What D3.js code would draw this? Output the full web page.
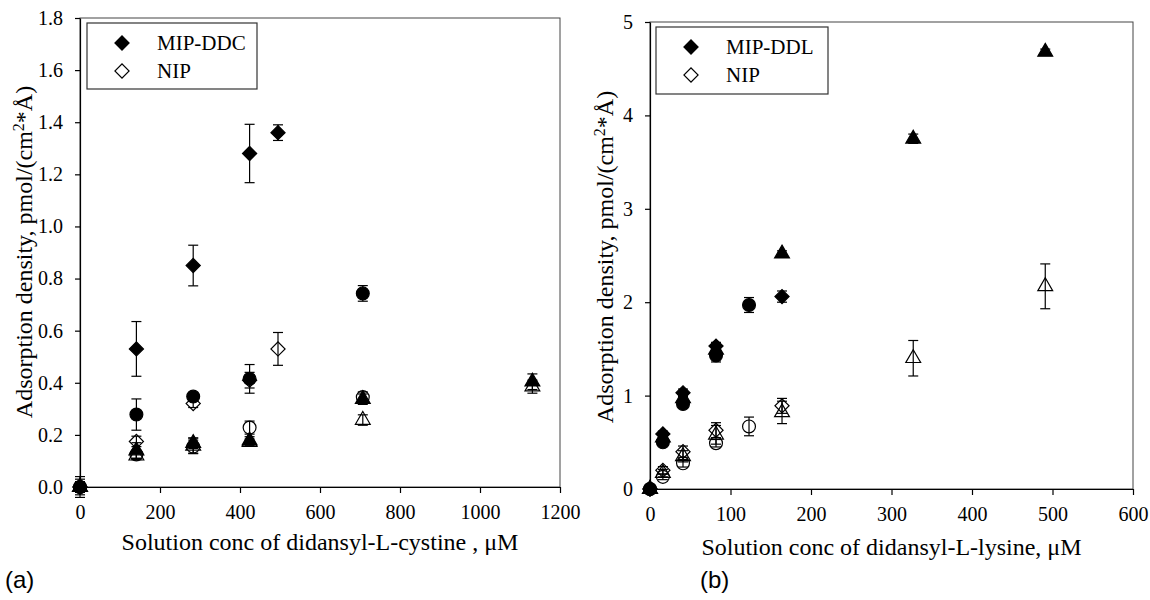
<!DOCTYPE html>
<html>
<head>
<meta charset="utf-8">
<script src="https://cdn.jsdelivr.net/npm/d3@7"></script>
<style>
  body { margin: 0; background: #fff; }
  text { font-family: "Liberation Serif", "Times New Roman", serif; fill: #000; }
  .tick text { font-family: "Liberation Serif", "Times New Roman", serif; font-size: 20px; }
</style>
</head>
<body>
<div id="chart"></div>
<script>
// ---- panel (a): didansyl-L-cystine ----
var aMipDiaX = [0, 141, 283, 424, 495];
var aMipDiaY = [0, 0.53, 0.85, 1.28, 1.36];
var aMipDiaE = [0.04, 0.105, 0.078, 0.112, 0.03];
var aNipDiaX = [0, 141, 283, 424, 495];
var aNipDiaY = [0, 0.175, 0.32, 0.41, 0.53];
var aNipDiaE = [0.02, 0.02, 0.015, 0.03, 0.063];
var aMipCirX = [0, 141, 283, 424, 707];
var aMipCirY = [0, 0.278, 0.347, 0.415, 0.743];
var aMipCirE = [0.03, 0.06, 0.015, 0.055, 0.03];
var aNipCirX = [0, 141, 283, 424, 707];
var aNipCirY = [0, 0.125, 0.155, 0.228, 0.345];
var aNipCirE = [0.02, 0.015, 0.025, 0.025, 0.02];
var aMipTriX = [0, 141, 283, 424, 707, 1131];
var aMipTriY = [0, 0.14, 0.168, 0.178, 0.337, 0.404];
var aMipTriE = [0.02, 0.03, 0.02, 0.015, 0.02, 0.03];
var aNipTriX = [0, 141, 283, 424, 707, 1131];
var aNipTriY = [0, 0.12, 0.158, 0.172, 0.257, 0.385];
var aNipTriE = [0.02, 0.015, 0.03, 0.012, 0.02, 0.025];
var aXTicks = [0, 200, 400, 600, 800, 1000, 1200];
var aYTicks = [0, 0.2, 0.4, 0.6, 0.8, 1.0, 1.2, 1.4, 1.6, 1.8];

// ---- panel (b): didansyl-L-lysine ----
var bMipDiaX = [0, 16, 41, 82, 164];
var bMipDiaY = [0, 0.59, 1.03, 1.53, 2.06];
var bMipDiaE = [0.02, 0.03, 0.04, 0.04, 0.06];
var bNipDiaX = [0, 16, 41, 82, 164];
var bNipDiaY = [0, 0.2, 0.4, 0.63, 0.89];
var bNipDiaE = [0.02, 0.04, 0.06, 0.08, 0.08];
var bMipCirX = [0, 16, 41, 82, 123];
var bMipCirY = [0, 0.5, 0.91, 1.43, 1.97];
var bMipCirE = [0.02, 0.03, 0.04, 0.07, 0.08];
var bNipCirX = [0, 16, 41, 82, 123];
var bNipCirY = [0, 0.13, 0.275, 0.49, 0.67];
var bNipCirE = [0.02, 0.03, 0.04, 0.04, 0.1];
var bMipTriX = [0, 16, 41, 82, 164, 327, 491];
var bMipTriY = [0, 0.55, 0.97, 1.49, 2.52, 3.75, 4.68];
var bMipTriE = [0.02, 0.03, 0.03, 0.04, 0.03, 0.05, 0.03];
var bNipTriX = [0, 16, 41, 82, 164, 327, 491];
var bNipTriY = [0, 0.17, 0.35, 0.58, 0.82, 1.4, 2.17];
var bNipTriE = [0.02, 0.04, 0.06, 0.1, 0.12, 0.19, 0.24];
var bXTicks = [0, 100, 200, 300, 400, 500, 600];
var bYTicks = [0, 1, 2, 3, 4, 5];

function pts(xs, ys, es) {
  return xs.map(function(x, i) { return {x: x, y: ys[i], e: es[i]}; });
}

var svg = d3.select("#chart").append("svg")
  .attr("width", 1150)
  .attr("height", 600);

var shapes = {
  diamond: d3.symbol().type(d3.symbolSquare).size(100),
  circle: d3.symbol().type(d3.symbolCircle).size(130),
  triangle: d3.symbol().type(d3.symbolTriangle).size(95)
};

function drawPanel(p) {
  var x = d3.scaleLinear().domain(p.xDomain).range(p.xRange);
  var y = d3.scaleLinear().domain(p.yDomain).range(p.yRange);
  var g = svg.append("g");

  // frame
  g.append("rect")
    .attr("x", p.xRange[0]).attr("y", p.yRange[1])
    .attr("width", p.xRange[1] - p.xRange[0])
    .attr("height", p.yRange[0] - p.yRange[1])
    .attr("fill", "none").attr("stroke", "#444").attr("stroke-width", 1);

  var xAxis = g.append("g")
    .attr("transform", "translate(0," + p.yRange[0] + ")")
    .call(d3.axisBottom(x).tickValues(p.xTicks).tickFormat(d3.format("d")).tickSize(6).tickPadding(12).tickSizeOuter(0));
  var yAxis = g.append("g")
    .attr("transform", "translate(" + p.xRange[0] + ",0)")
    .call(d3.axisLeft(y).tickValues(p.yTicks).tickFormat(p.yFormat).tickSize(5).tickPadding(12).tickSizeOuter(0));
  [xAxis, yAxis].forEach(function(ax) {
    ax.attr("font-family", null).attr("font-size", null);
    ax.selectAll("path,line").attr("stroke", "#000").attr("stroke-width", 1.2);
  });

  // axis titles
  g.append("text")
    .attr("x", (p.xRange[0] + p.xRange[1]) / 2)
    .attr("y", p.xTitleY)
    .attr("text-anchor", "middle")
    .style("font-size", "24px")
    .text(p.xTitle);

  var yt = g.append("text")
    .attr("transform", "translate(" + p.yTitleX + "," + p.yTitleMid + ") rotate(-90)")
    .attr("text-anchor", "middle")
    .style("font-size", "24px");
  yt.append("tspan").text("Adsorption density, pmol/(cm");
  yt.append("tspan").attr("baseline-shift", "super").style("font-size", "16px").text("2");
  yt.append("tspan").text("*Å)");

  // series: error bars then markers
  p.series.forEach(function(s) {
    var sg = g.append("g");
    var d = pts(s.x, s.y, s.e);
    var eb = sg.selectAll("g.err").data(d).enter().append("g").attr("class", "err");
    eb.append("line")
      .attr("x1", function(v) { return x(v.x); }).attr("x2", function(v) { return x(v.x); })
      .attr("y1", function(v) { return y(v.y - v.e); }).attr("y2", function(v) { return y(v.y + v.e); });
    eb.append("line")
      .attr("x1", function(v) { return x(v.x) - 5; }).attr("x2", function(v) { return x(v.x) + 5; })
      .attr("y1", function(v) { return y(v.y + v.e); }).attr("y2", function(v) { return y(v.y + v.e); });
    eb.append("line")
      .attr("x1", function(v) { return x(v.x) - 5; }).attr("x2", function(v) { return x(v.x) + 5; })
      .attr("y1", function(v) { return y(v.y - v.e); }).attr("y2", function(v) { return y(v.y - v.e); });
    eb.selectAll("line").attr("stroke", "#000").attr("stroke-width", 1.2);

    sg.selectAll("path.mk").data(d).enter().append("path")
      .attr("class", "mk")
      .attr("d", shapes[s.shape])
      .attr("transform", function(v) {
        return "translate(" + x(v.x) + "," + y(v.y) + ")" + (s.shape === "diamond" ? " rotate(45)" : "");
      })
      .attr("fill", s.filled ? "#000" : "none")
      .attr("stroke", "#000")
      .attr("stroke-width", 1.2);
  });

  // legend
  var lg = g.append("g");
  lg.append("rect")
    .attr("x", p.legend.x).attr("y", p.legend.y)
    .attr("width", p.legend.w).attr("height", p.legend.h)
    .attr("fill", "#fff").attr("stroke", "#333").attr("stroke-width", 1.2);
  p.legend.items.forEach(function(it, i) {
    var cy = p.legend.y + 20 + i * 28;
    lg.append("path")
      .attr("d", shapes.diamond)
      .attr("transform", "translate(" + (p.legend.x + 35) + "," + cy + ") rotate(45)")
      .attr("fill", it.filled ? "#000" : "#fff")
      .attr("stroke", "#000").attr("stroke-width", 1.2);
    lg.append("text")
      .attr("x", p.legend.x + 70).attr("y", cy + 7)
      .style("font-size", "21px")
      .text(it.label);
  });

  svg.append("text")
    .attr("x", p.tag.x).attr("y", p.tag.y)
    .style("font-family", "Liberation Sans, Arial, sans-serif")
    .style("font-size", "24px")
    .text(p.tag.text);
}

drawPanel({
  xDomain: [0, 1200], xRange: [80, 560],
  yDomain: [0, 1.8], yRange: [487, 18],
  xTicks: aXTicks, yTicks: aYTicks, yFormat: d3.format(".1f"),
  xTitle: "Solution conc of didansyl-L-cystine , μM", xTitleY: 550,
  yTitleX: 32, yTitleMid: 252,
  series: [
    {x: aNipDiaX, y: aNipDiaY, e: aNipDiaE, shape: "diamond", filled: false},
    {x: aMipDiaX, y: aMipDiaY, e: aMipDiaE, shape: "diamond", filled: true},
    {x: aNipCirX, y: aNipCirY, e: aNipCirE, shape: "circle", filled: false},
    {x: aMipCirX, y: aMipCirY, e: aMipCirE, shape: "circle", filled: true},
    {x: aNipTriX, y: aNipTriY, e: aNipTriE, shape: "triangle", filled: false},
    {x: aMipTriX, y: aMipTriY, e: aMipTriE, shape: "triangle", filled: true}
  ],
  legend: {x: 87, y: 23, w: 170, h: 66, items: [{label: "MIP-DDC", filled: true}, {label: "NIP", filled: false}]},
  tag: {x: 5, y: 588, text: "(a)"}
});

drawPanel({
  xDomain: [0, 600], xRange: [650, 1133],
  yDomain: [0, 5], yRange: [489, 22],
  xTicks: bXTicks, yTicks: bYTicks, yFormat: d3.format("d"),
  xTitle: "Solution conc of didansyl-L-lysine, μM", xTitleY: 555,
  yTitleX: 613, yTitleMid: 257,
  series: [
    {x: bNipDiaX, y: bNipDiaY, e: bNipDiaE, shape: "diamond", filled: false},
    {x: bMipDiaX, y: bMipDiaY, e: bMipDiaE, shape: "diamond", filled: true},
    {x: bNipCirX, y: bNipCirY, e: bNipCirE, shape: "circle", filled: false},
    {x: bMipCirX, y: bMipCirY, e: bMipCirE, shape: "circle", filled: true},
    {x: bNipTriX, y: bNipTriY, e: bNipTriE, shape: "triangle", filled: false},
    {x: bMipTriX, y: bMipTriY, e: bMipTriE, shape: "triangle", filled: true}
  ],
  legend: {x: 656, y: 27, w: 172, h: 67, items: [{label: "MIP-DDL", filled: true}, {label: "NIP", filled: false}]},
  tag: {x: 700, y: 588, text: "(b)"}
});
</script>
</body>
</html>
